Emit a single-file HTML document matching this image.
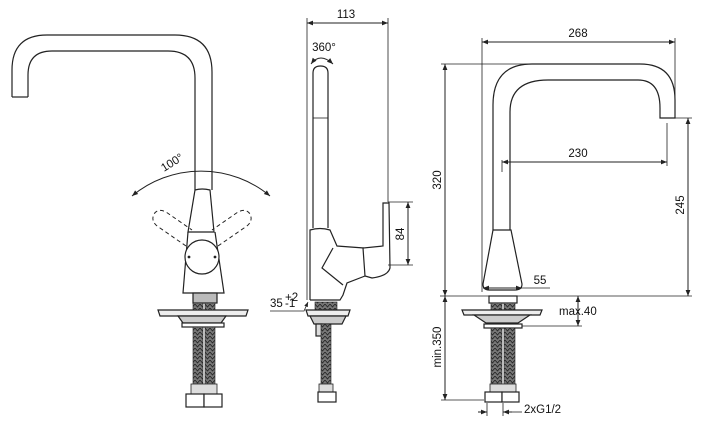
<!DOCTYPE html>
<html><head><meta charset="utf-8"><style>
html,body{margin:0;padding:0;background:#fff;}
svg{display:block;}
text{font-family:"Liberation Sans",sans-serif;fill:#111;font-size:11.5px;}
</style></head><body>
<svg width="701" height="427" viewBox="0 0 701 427" xmlns="http://www.w3.org/2000/svg">
<defs>
<pattern id="hz" width="5" height="4" patternUnits="userSpaceOnUse">
<rect width="5" height="4" fill="#777"/>
<path d="M0,0 L2.5,3 L5,0" stroke="#222" stroke-width="0.8" fill="none"/>
</pattern>
<marker id="a" viewBox="0 0 10 10" refX="10" refY="5" markerWidth="7" markerHeight="6" orient="auto-start-reverse">
<path d="M0,1 L10,5 L0,9 z" fill="#222"/>
</marker>
</defs>
<g fill="none" stroke="#222" stroke-width="1.2">
<!-- LEFT VIEW -->
<path d="M12,97 L12,70 Q12,35 47,35 L175,35 Q212,35 212,72 L212,190"/>
<path d="M28,97 L28,75 Q28,51 52,51 L168,51 Q195,51 195,78 L195,190"/>
<path d="M12,97 L28,97"/>
<path d="M195,190 Q202,188 210,190 L214,232 L188,232 Z" fill="#fff"/>
<path d="M188,232 L183,293 L224,293 L215,232"/>
<circle cx="202" cy="257" r="17" fill="#fff"/>
<circle cx="189" cy="257" r="0.8" fill="#333"/>
<circle cx="215" cy="257" r="0.8" fill="#333"/>
<path d="M132,196 A108,108 0 0 1 270,196" marker-start="url(#a)" marker-end="url(#a)" stroke-width="1"/>
<g stroke-dasharray="4,3" stroke-width="1">
<path d="M186,246 L160,228 Q150,222 154,214 Q158,208 166,212 L192,230"/>
<path d="M218,246 L244,228 Q254,222 250,214 Q246,208 238,212 L212,230"/>
</g>
<rect x="193" y="293" width="24" height="10" fill="#bbb"/>
<path d="M158,310 L248,310 L246,316 L160,316 Z" fill="#eee"/>
<path d="M178,316 L226,316 L221,323 L183,323 Z" fill="#ccc"/>
<rect x="182" y="323" width="42" height="4" fill="#fff"/>
<rect x="193" y="303" width="10" height="7" fill="url(#hz)" stroke-width="0.6"/>
<rect x="205" y="303" width="10" height="7" fill="url(#hz)" stroke-width="0.6"/>
<rect x="193" y="327" width="10" height="63" fill="url(#hz)" stroke-width="0.6"/>
<rect x="205" y="327" width="10" height="63" fill="url(#hz)" stroke-width="0.6"/>
<rect x="191" y="384" width="26" height="10" fill="#ddd" stroke-width="0.8"/>
<rect x="186" y="394" width="18" height="13" fill="#fff"/>
<rect x="204" y="394" width="18" height="13" fill="#fff"/>

<!-- MIDDLE VIEW -->
<path d="M307,23 L388,23" marker-start="url(#a)" marker-end="url(#a)" stroke-width="1"/>
<path d="M307,18 L307,300 M388,18 L388,202" stroke-width="0.8"/>
<path d="M311,64 Q320,52 333,64" marker-start="url(#a)" marker-end="url(#a)" stroke-width="1"/>
<path d="M313,228 L313,73 Q313,66 320.5,66 Q328,66 328,73 L328,228"/>
<path d="M313,118 L328,118" stroke-width="0.8"/>
<path d="M310,300 L310,230 Q320,227 330,230 L337,246 L364,248"/>
<path d="M383,203 L389,203 L390,268 Q388,276 372,278 L365,276 L363,248 L383,246 Z" fill="#fff"/>
<path d="M365,276 L347,283 L343,295 L340,300 L310,300"/>
<path d="M333,248 L322,268 L343,285"/>
<path d="M388,202 L413,202 M388,265 L413,265" stroke-width="0.8"/>
<path d="M408,202 L408,265" marker-start="url(#a)" marker-end="url(#a)" stroke-width="1"/>
<path d="M270,311 L304,311 L308,302" stroke-width="0.8" marker-end="url(#a)"/>
<rect x="315" y="302" width="22" height="8" fill="url(#hz)" stroke-width="0.6"/>
<path d="M306,310 L350,310 L348,316 L308,316 Z" fill="#eee"/>
<path d="M310,316 L346,316 L342,324 L314,324 Z" fill="#ccc"/>
<rect x="316" y="324" width="6" height="12" fill="#ddd"/>
<rect x="321" y="324" width="10" height="60" fill="url(#hz)" stroke-width="0.6"/>
<rect x="319" y="384" width="14" height="8" fill="#ddd" stroke-width="0.8"/>
<rect x="318" y="392" width="18" height="10" fill="#fff"/>

<!-- RIGHT VIEW -->
<path d="M482,42 L675,42" marker-start="url(#a)" marker-end="url(#a)" stroke-width="1"/>
<path d="M482,38 L482,292 M675,38 L675,118" stroke-width="0.8"/>
<path d="M441,64 L530,64" stroke-width="0.8"/>
<path d="M445,64 L445,296" marker-start="url(#a)" marker-end="url(#a)" stroke-width="1"/>
<path d="M493,230 L493,105 Q493,64 532,64 L640,64 Q675,64 675,100 L675,118 L660,118 L660,108 Q660,80 638,80 L548,80 Q510,80 510,112 L510,230"/>
<path d="M667,123 L667,166 M502,160 L502,172" stroke-width="0.8"/>
<path d="M502,162 L667,162" marker-start="url(#a)" marker-end="url(#a)" stroke-width="1"/>
<path d="M668,118 L692,118" stroke-width="0.8"/>
<path d="M688,118 L688,296" marker-start="url(#a)" marker-end="url(#a)" stroke-width="1"/>
<path d="M493,230 L511,230 L522,284 Q522,290 515,290 L489,290 Q483,290 483,284 Z" fill="#fff"/>
<path d="M483,288 L522,288" marker-start="url(#a)" marker-end="url(#a)" stroke-width="1"/>
<path d="M522,288 L550,288" stroke-width="0.8"/>
<path d="M440,296 L692,296" stroke-width="0.8"/>
<rect x="489" y="296" width="28" height="7" fill="#fff"/>
<rect x="491" y="303" width="11" height="20" fill="url(#hz)" stroke-width="0.6"/>
<rect x="504" y="303" width="11" height="20" fill="url(#hz)" stroke-width="0.6"/>
<path d="M462,310 L542,310 L540,315 L464,315 Z" fill="#eee"/>
<path d="M474,315 L530,315 L518,323 L486,323 Z" fill="#ccc"/>
<rect x="484" y="324" width="38" height="4" fill="#fff"/>
<path d="M522,326 L582,326" stroke-width="0.8"/>
<path d="M578,296 L578,326" marker-start="url(#a)" marker-end="url(#a)" stroke-width="1"/>
<rect x="491" y="328" width="11" height="58" fill="url(#hz)" stroke-width="0.6"/>
<rect x="504" y="328" width="11" height="58" fill="url(#hz)" stroke-width="0.6"/>
<rect x="490" y="384" width="26" height="8" fill="#ddd" stroke-width="0.8"/>
<rect x="485" y="392" width="17" height="10" fill="#fff"/>
<rect x="502" y="392" width="17" height="10" fill="#fff"/>
<path d="M441,400 L484,400" stroke-width="0.8"/>
<path d="M445,296 L445,400" marker-start="url(#a)" marker-end="url(#a)" stroke-width="1"/>
<path d="M487,403 L487,416 M503,403 L503,416" stroke-width="0.8"/>
<path d="M478,412 L487,412" marker-end="url(#a)" stroke-width="1"/>
<path d="M512,412 L503,412" marker-end="url(#a)" stroke-width="1"/>
<path d="M512,412 L522,412" stroke-width="0.8"/>
</g>
<!-- TEXT -->
<text x="164" y="172" transform="rotate(-32 164 172)" font-size="12">100°</text>
<text x="346" y="18" text-anchor="middle">113</text>
<text x="324" y="51" text-anchor="middle">360°</text>
<text x="404" y="234" text-anchor="middle" transform="rotate(-90 404 234)">84</text>
<text x="270" y="307">35</text>
<text x="285" y="301" font-size="6">+2</text>
<text x="285" y="307" font-size="6">-1</text>
<text x="578" y="37" text-anchor="middle">268</text>
<text x="441" y="180" text-anchor="middle" transform="rotate(-90 441 180)">320</text>
<text x="578" y="157" text-anchor="middle">230</text>
<text x="684" y="205" text-anchor="middle" transform="rotate(-90 684 205)">245</text>
<text x="540" y="284" text-anchor="middle">55</text>
<text x="559" y="315">max.40</text>
<text x="441" y="347" text-anchor="middle" transform="rotate(-90 441 347)">min.350</text>
<text x="524" y="413">2xG1/2</text>
</svg>
</body></html>
